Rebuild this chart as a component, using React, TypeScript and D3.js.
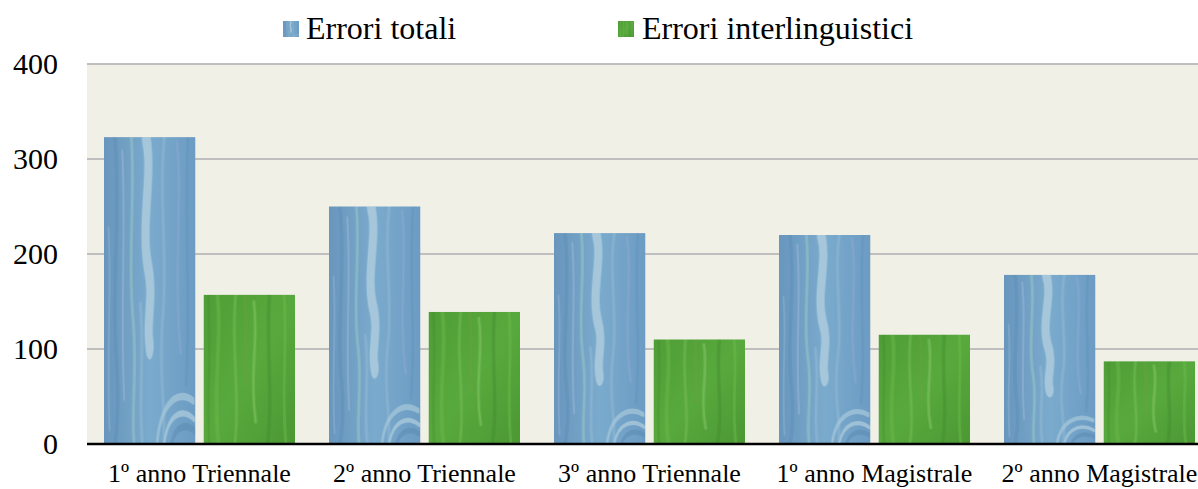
import React from "react";
import * as d3 from "d3";

const categories = [
  "1º anno Triennale",
  "2º anno Triennale",
  "3º anno Triennale",
  "1º anno Magistrale",
  "2º anno Magistrale",
];
const erroriTotali = [323, 250, 222, 220, 178];
const erroriInterlinguistici = [157, 139, 110, 115, 87];
const seriesNames = ["Errori totali", "Errori interlinguistici"];
const yTicks = [0, 100, 200, 300, 400];

const W = 1198;
const H = 489;
const margin = { top: 64, left: 87, bottom: 444 };
const FONT = "'Liberation Serif', 'Times New Roman', serif";

// painted-looking fills, stretched over each bar
const BlueTexture = () => (
  <pattern id="blueTex" width="1" height="1" patternContentUnits="objectBoundingBox" preserveAspectRatio="none">
    <linearGradient id="blueBase" x1="0" x2="1" y1="0" y2="0">
      <stop offset="0" stopColor="#6896bd" />
      <stop offset="0.5" stopColor="#7aaacc" />
      <stop offset="1" stopColor="#6c9cc3" />
    </linearGradient>
    <rect width="1" height="1" fill="url(#blueBase)" />
    <g fill="none" strokeLinecap="round">
      <path d="M0.46,0 C0.54,0.12 0.4,0.28 0.48,0.42 C0.55,0.52 0.46,0.6 0.5,0.68" stroke="#b9d4e2" strokeWidth="0.09" opacity="0.7" />
      <path d="M0.3,0 C0.34,0.2 0.26,0.4 0.32,0.6 C0.36,0.75 0.3,0.9 0.33,1" stroke="#9ccbc4" strokeWidth="0.03" opacity="0.5" />
      <path d="M0.12,0 C0.18,0.25 0.08,0.5 0.14,0.75 C0.17,0.9 0.12,1 0.12,1" stroke="#5d8cb6" strokeWidth="0.04" opacity="0.45" />
      <path d="M0.2,0.05 C0.24,0.3 0.18,0.55 0.22,0.85" stroke="#a6b8de" strokeWidth="0.02" opacity="0.5" />
      <path d="M0.66,0 C0.6,0.2 0.7,0.4 0.64,0.6 C0.6,0.78 0.68,0.9 0.65,1" stroke="#8fb8d4" strokeWidth="0.03" opacity="0.6" />
      <path d="M0.8,0.02 C0.86,0.2 0.76,0.45 0.84,0.7" stroke="#9aa8d8" strokeWidth="0.02" opacity="0.5" />
      <path d="M0.92,0 C0.88,0.3 0.95,0.55 0.9,0.8" stroke="#5f8fb8" strokeWidth="0.03" opacity="0.4" />
      <path d="M0.05,0.3 C0.08,0.5 0.03,0.7 0.06,0.95" stroke="#8fb4d2" strokeWidth="0.02" opacity="0.5" />
      <path d="M0.58,1 C0.62,0.86 0.82,0.82 0.98,0.86" stroke="#a9c9dc" strokeWidth="0.025" opacity="0.7" />
      <path d="M0.66,1 C0.7,0.9 0.86,0.88 0.99,0.92" stroke="#b3cfdf" strokeWidth="0.02" opacity="0.7" />
      <path d="M0.74,1 C0.78,0.94 0.9,0.93 1,0.96" stroke="#5b8ab2" strokeWidth="0.025" opacity="0.5" />
      <path d="M0.4,0.55 C0.44,0.7 0.38,0.85 0.42,1" stroke="#95bcd6" strokeWidth="0.03" opacity="0.5" />
    </g>
  </pattern>
);

const GreenTexture = () => (
  <pattern id="greenTex" width="1" height="1" patternContentUnits="objectBoundingBox" preserveAspectRatio="none">
    <linearGradient id="greenBase" x1="0" x2="1" y1="0" y2="1">
      <stop offset="0" stopColor="#4f9d36" />
      <stop offset="0.5" stopColor="#58a93d" />
      <stop offset="1" stopColor="#4c9834" />
    </linearGradient>
    <rect width="1" height="1" fill="url(#greenBase)" />
    <g fill="none" strokeLinecap="round">
      <path d="M0.15,0 C0.2,0.3 0.1,0.6 0.16,1" stroke="#6cb84c" strokeWidth="0.04" opacity="0.5" />
      <path d="M0.35,0 C0.3,0.35 0.4,0.7 0.34,1" stroke="#7cc25a" strokeWidth="0.03" opacity="0.45" />
      <path d="M0.55,0.05 C0.6,0.3 0.5,0.55 0.57,0.85" stroke="#88c968" strokeWidth="0.03" opacity="0.5" />
      <path d="M0.72,0 C0.68,0.35 0.76,0.65 0.7,1" stroke="#3f8a2c" strokeWidth="0.04" opacity="0.4" />
      <path d="M0.88,0 C0.92,0.3 0.85,0.6 0.9,1" stroke="#6ab94a" strokeWidth="0.03" opacity="0.5" />
      <path d="M0.05,0 C0.08,0.4 0.03,0.7 0.06,1" stroke="#428f2e" strokeWidth="0.03" opacity="0.4" />
      <path d="M0.45,0 C0.48,0.2 0.44,0.4 0.47,0.6" stroke="#7a9a3a" strokeWidth="0.02" opacity="0.4" />
    </g>
  </pattern>
);

const App = () => {
  const x0 = d3.scaleBand<string>().domain(categories).range([margin.left, margin.left + 225 * 5]).padding(0);
  const x1 = d3.scaleBand<string>().domain(seriesNames).range([17, 208]).paddingInner(0.085);
  const y = d3.scaleLinear().domain([0, 400]).range([margin.bottom, margin.top]);
  const fills = ["url(#blueTex)", "url(#greenTex)"];
  const series = [erroriTotali, erroriInterlinguistici];

  const legend = [
    { sq: 283, tx: 306 },
    { sq: 618, tx: 642 },
  ];

  return (
    <div style={{ position: "fixed", left: 0, top: 0 }}>
      <svg width={W} height={H} style={{ display: "block", background: "#fff" }}>
        <defs>
          <BlueTexture />
          <GreenTexture />
          <clipPath id="plotClip">
            <rect x={0} y={0} width={W} height={H} />
          </clipPath>
        </defs>

        <rect x={margin.left} y={margin.top} width={W - margin.left} height={margin.bottom - margin.top} fill="#f1f0e7" />

        {yTicks.slice(1).map(t => (
          <line key={t} x1={margin.left} x2={W} y1={y(t)} y2={y(t)} stroke="#bfbfbf" strokeWidth={2} />
        ))}

        {yTicks.map(t => (
          <text key={t} x={58} y={y(t)} dy="0.34em" textAnchor="end" fontFamily={FONT} fontSize={30} fill="#000">
            {t}
          </text>
        ))}

        <g clipPath="url(#plotClip)">
          {categories.map((c, i) =>
            seriesNames.map((s, j) => {
              const v = series[j][i];
              return (
                <rect
                  key={c + s}
                  x={(x0(c) ?? 0) + (x1(s) ?? 0)}
                  y={y(v)}
                  width={x1.bandwidth()}
                  height={y(0) - y(v)}
                  fill={fills[j]}
                />
              );
            })
          )}
        </g>

        <line x1={margin.left} x2={W} y1={y(0)} y2={y(0)} stroke="#000" strokeWidth={2.5} />

        {categories.map(c => (
          <text
            key={c}
            x={(x0(c) ?? 0) + 17 + 95.5}
            y={482}
            textAnchor="middle"
            fontFamily={FONT}
            fontSize={26}
            fill="#000"
          >
            {c}
          </text>
        ))}

        {seriesNames.map((s, j) => (
          <g key={s}>
            <rect x={legend[j].sq} y={21} width={16} height={16} fill={fills[j]} />
            <text x={legend[j].tx} y={39} fontFamily={FONT} fontSize={32} fill="#000">
              {s}
            </text>
          </g>
        ))}
      </svg>
    </div>
  );
};

export default App;
